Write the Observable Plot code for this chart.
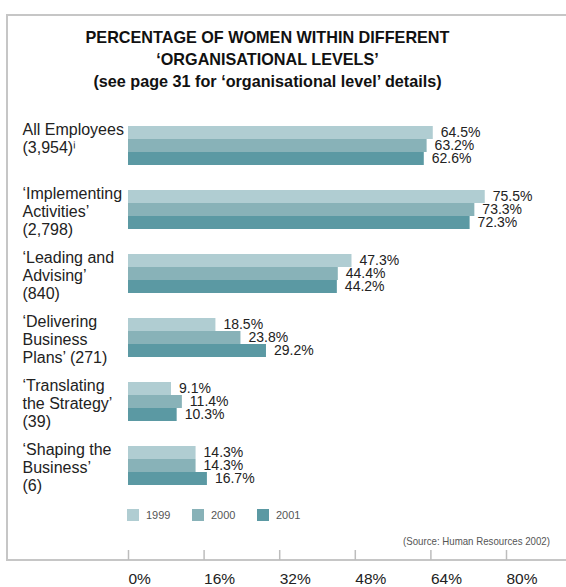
<!DOCTYPE html>
<html><head><meta charset="utf-8">
<script src="https://cdn.jsdelivr.net/npm/d3@7"></script>
<script src="https://cdn.jsdelivr.net/npm/@observablehq/plot@0.6"></script>
<style>
body{margin:0;background:#fff;}
#wrap{position:relative;width:566px;height:587px;overflow:hidden;font-family:"Liberation Sans",Arial,Helvetica,sans-serif;}
#frame{position:absolute;left:6px;top:14px;width:620px;height:543px;border-top:2px solid #c6c6c6;border-left:2px solid #c6c6c6;border-bottom:2px solid #c6c6c6;}
#title{position:absolute;left:7px;width:521px;top:26px;text-align:center;font-weight:bold;font-size:16.2px;line-height:22px;color:#111;}
#chart{position:absolute;left:0;top:0;}
#axis{position:absolute;left:0;top:540px;}
#legend{position:absolute;left:127px;top:509px;}
#legend > div{min-height:0 !important;margin:0 !important;font-family:"Liberation Sans",Arial,sans-serif !important;font-size:11px !important;color:#555 !important;}
#legend div div{min-height:0 !important;}
#legend span{width:65px;margin-right:0 !important;display:inline-flex;align-items:center;color:#555;}
#legend svg{margin-right:7px !important;}
#source{position:absolute;right:16px;top:535px;font-family:"Liberation Sans",Arial,sans-serif;font-size:11px;color:#555;white-space:nowrap;transform:scaleX(0.88);transform-origin:right center;}
</style>
</head><body>
<div id="wrap">
  <div id="frame"></div>
  <div id="title">PERCENTAGE OF WOMEN WITHIN DIFFERENT<br>‘ORGANISATIONAL LEVELS’<br>(see page 31 for ‘organisational level’ details)</div>
  <div id="chart"></div>
  <div id="legend"></div>
  <div id="source">(Source: Human Resources 2002)</div>
  <div id="axis"></div>
</div>
<script>
const categories = ["All Employees", "Implementing Activities", "Leading and Advising", "Delivering Business Plans", "Translating the Strategy", "Shaping the Business"];
const labels = [
  "All Employees\n(3,954)ⁱ",
  "‘Implementing\nActivities’\n(2,798)",
  "‘Leading and\nAdvising’\n(840)",
  "‘Delivering\nBusiness\nPlans’ (271)",
  "‘Translating\nthe Strategy’\n(39)",
  "‘Shaping the\nBusiness’\n(6)"
];
const years = ["1999", "2000", "2001"];
const v1999 = [64.5, 75.5, 47.3, 18.5, 9.1, 14.3];
const v2000 = [63.2, 73.3, 44.4, 23.8, 11.4, 14.3];
const v2001 = [62.6, 72.3, 44.2, 29.2, 10.3, 16.7];
const xTicks = [0, 16, 32, 48, 64, 80];
const colors = ["#b0cdd2", "#88b2b8", "#5b99a3"];

const series = [v1999, v2000, v2001];
const rows = [];
categories.forEach((c, i) => years.forEach((y, j) => rows.push({cat: c, year: y, value: series[j][i]})));

const fontFamily = "'Liberation Sans', Arial, Helvetica, sans-serif";

const chart = Plot.plot({
  width: 566,
  height: 500,
  marginTop: 125,
  marginBottom: 15,
  marginLeft: 128,
  marginRight: 60,
  style: {fontFamily, background: "transparent", color: "#222"},
  x: {domain: [0, 80], axis: null},
  y: {domain: years, padding: 0, axis: null},
  fy: {domain: categories, paddingInner: 0.375, paddingOuter: 0, axis: null},
  color: {domain: years, range: colors},
  marks: [
    Plot.barX(rows, {fy: "cat", y: "year", x: "value", fill: "year"}),
    Plot.text(rows, {fy: "cat", y: "year", x: "value", text: d => d.value.toFixed(1) + "%", textAnchor: "start", dx: 7.5, fontSize: 14, fill: "#222"}),
    Plot.text(categories, {fy: d => d, text: (d, i) => labels[i], frameAnchor: "top-left", textAnchor: "start", lineAnchor: "top", dx: -106, dy: -3, lineHeight: 1.125, fontSize: 16, fill: "#222"})
  ]
});
document.getElementById("chart").appendChild(chart);

const legend = Plot.legend({color: {domain: years, range: colors}, legend: "swatches", swatchSize: 12});
document.getElementById("legend").appendChild(legend);

const axis = Plot.plot({
  width: 566,
  height: 47,
  marginTop: 10,
  marginBottom: 27,
  marginLeft: 128,
  marginRight: 60,
  style: {fontFamily, background: "transparent", color: "#222"},
  x: {domain: [0, 80], axis: null},
  marks: [
    Plot.tickX(xTicks, {x: d => d, stroke: "#bdbdbd", strokeWidth: 1.5}),
    Plot.axisX(xTicks, {anchor: "bottom", tickSize: 0, tickPadding: 12, tickFormat: d => d + "%", textAnchor: "start", fontSize: 15.5, fill: "#222"})
  ]
});
document.getElementById("axis").appendChild(axis);
</script>
</body></html>
